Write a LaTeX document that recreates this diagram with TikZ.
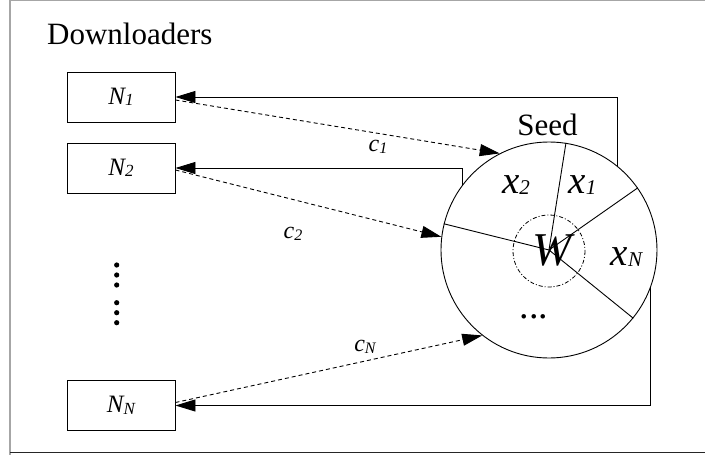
\documentclass[tikz,border=0pt]{standalone}
\usepackage{fontspec}
\setmainfont{Liberation Serif}
\usetikzlibrary{arrows.meta}

% italic symbol with a small italic index set just below the baseline
\newcommand{\symidx}[4]{{\fontsize{#1}{#1}\selectfont\itshape #3}{\fontsize{#2}{#2}\selectfont\itshape\raisebox{-1.5pt}{#4}}}

\tikzset{
  wire/.style={line width=0.9pt},
  tip/.style={-{Triangle[length=20pt,width=12pt]}},
  flow/.style={wire,tip,dashed,dash pattern=on 4pt off 3pt},
  feed/.style={wire,tip},
  peerbox/.style={draw,line width=0.9pt,minimum width=108pt,minimum height=50pt,inner sep=0pt},
  rate/.style={inner sep=0pt},
  title/.style={font=\fontsize{31}{31}\selectfont,inner sep=0pt},
}

\begin{document}
\begin{tikzpicture}[x=1pt,y=-1pt]
\useasboundingbox (0,0) rectangle (705,455);

% outer frame
\draw[gray!70,line width=1.3pt] (10,455) -- (10,0.7) -- (705,0.7);
\draw[black!85,line width=1pt] (10,452) -- (705,452);

\node[title,anchor=base west] (dltitle) at (47,45) {Downloaders};

% downloader boxes
\node[peerbox] (n1) at (121,97)    {\symidx{25}{17}{N}{1}};
\node[peerbox] (n2) at (121,168)   {\symidx{25}{17}{N}{2}};
\node[peerbox] (nN) at (121,405.5) {\symidx{25}{17}{N}{N}};

% vertical ellipsis between the boxes
\foreach \yy in {265,275,285,302.7,312.7,322.7}
  \fill (116.7,\yy) circle (2.6);

% the seed and its shares
\node[circle,draw,line width=0.9pt,minimum size=216pt,inner sep=0pt] (seed) at (549,250) {};
\node[title,anchor=base] (seedlbl) at (547.5,135) {Seed};
\draw[wire] (seed.center) -- (seed.81);
\draw[wire] (seed.center) -- (seed.35);
\draw[wire] (seed.center) -- (seed.-39);
\draw[wire] (seed.center) -- (seed.166.6);
\draw[line width=0.8pt,dash pattern=on 4pt off 2pt on 1pt off 2pt] (549,251) circle (36);

\node[inner sep=0pt,anchor=base] (w) at (552,265.5) {\fontsize{47}{47}\selectfont\itshape W};
\node[inner sep=0pt,anchor=base] (x2) at (516,193) {\symidx{39}{21}{x}{2}};
\node[inner sep=0pt,anchor=base] (x1) at (582.5,193) {\symidx{39}{21}{x}{1}};
\node[inner sep=0pt,anchor=base] (xN) at (626.5,265) {\symidx{39}{21}{x}{N}};
\node[inner sep=0pt,anchor=base] (rest) at (534,318) {\fontsize{38}{38}\selectfont ...};

% upload links back to the downloaders
\draw[feed] (seed.51.8) |- (n1.east);
\draw[feed] (seed.143.9) |- (n2.east);
\draw[feed] (seed.340.8) |- (nN.east);

% requests from the downloaders
\draw[flow] ([yshift=-3pt]n1.east) -- (seed.117.3);
\draw[flow] ([yshift=-2pt]n2.east) -- (seed.173.1);
\draw[flow] ([yshift=3pt]nN.east) -- (seed.232.3);

\node[rate] (c1) at (378,147) {\symidx{24}{16}{c}{1}};
\node[rate] (c2) at (293,234) {\symidx{24}{16}{c}{2}};
\node[rate] (cN) at (365,347) {\symidx{24}{16}{c}{N}};
\end{tikzpicture}
\end{document}
